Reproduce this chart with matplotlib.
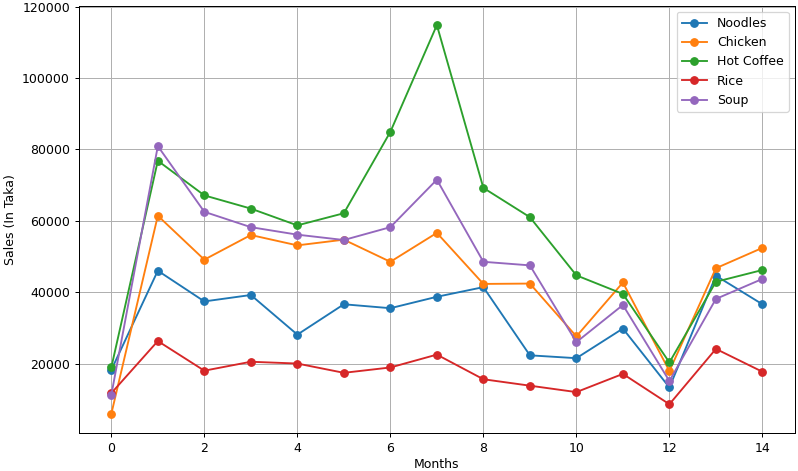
import matplotlib
matplotlib.use("Agg")
import matplotlib.pyplot as plt

months = list(range(15))
noodles = [18200, 46000, 37400, 39200, 28100, 36600, 35500, 38700, 41400, 22300, 21500, 29800, 13300, 44600, 36600]
chicken = [5900, 61400, 49100, 56000, 53100, 54700, 48500, 56600, 42300, 42400, 27600, 42700, 17900, 46700, 52400]
hot_coffee = [18900, 76800, 67100, 63400, 58700, 62100, 84900, 114800, 69200, 61000, 44700, 39500, 20300, 42900, 46200]
rice = [11700, 26300, 18000, 20500, 20000, 17400, 18900, 22500, 15600, 13800, 12000, 17100, 8600, 24100, 17700]
soup = [11200, 80900, 62500, 58200, 56100, 54600, 58200, 71500, 48500, 47500, 26000, 36400, 15100, 38100, 43700]

series = [("Noodles", noodles), ("Chicken", chicken), ("Hot Coffee", hot_coffee),
          ("Rice", rice), ("Soup", soup)]

DPI = 90
fig = plt.figure(figsize=(798 / DPI, 471 / DPI), dpi=DPI)
ax = fig.add_axes([0.0987, 0.080, 0.8975, 0.908])
for name, vals in series:
    ax.plot(months, vals, marker='o', label=name)
ax.set_xlabel("Months", labelpad=2.5)
ax.set_ylabel("Sales (In Taka)")
ax.grid(True)
ax.legend(loc="upper right")
fig.savefig("out.png", dpi=DPI)
